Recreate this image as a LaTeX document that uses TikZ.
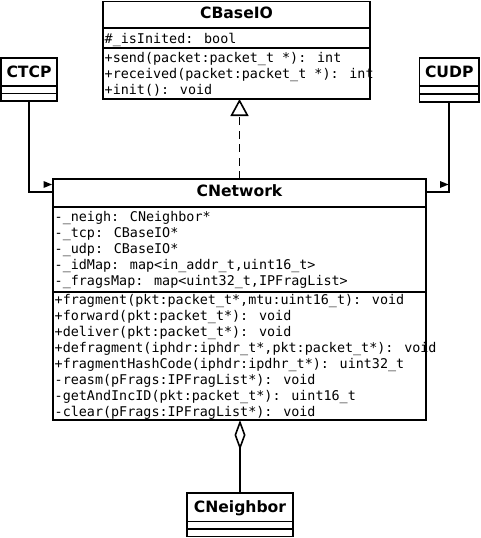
\documentclass[tikz,border=0pt]{standalone}
\usepackage{fontspec}
\usetikzlibrary{arrows.meta}
\newfontfamily\titlefont{DejaVu Sans}
\newfontfamily\memberfont{DejaVu Sans Mono}
\begin{document}
\begin{tikzpicture}[x=1pt,y=-1pt,
  classbox/.style={draw, line width=1.8pt, inner sep=0pt, outer sep=0pt, anchor=north west},
  classtitle/.style={font=\titlefont\bfseries\fontsize{15.6}{18}\selectfont, anchor=base, inner sep=0pt},
  member/.style={font=\memberfont\fontsize{13.4}{16}\selectfont, anchor=base west, inner sep=0pt},
  divider/.style={line width=1.5pt},
  conn/.style={line width=1.6pt},
  navtip/.style={fill=black}]
\useasboundingbox (0,0) rectangle (480,538);

% ---- CBaseIO ----
\node[classbox, minimum width=267pt, minimum height=97.5pt] (cbaseio) at (103,1.5) {};
\draw[divider] (cbaseio.west |- 0,28) -- (cbaseio.east |- 0,28);
\draw[divider] (cbaseio.west |- 0,48) -- (cbaseio.east |- 0,48);
\node[classtitle] (cbaseio-t) at (cbaseio.north |- 0,19) {CBaseIO};
\node[member] (cbaseio-a1) at (104.5,43) {\#\_isInited: bool};
\node[member] (cbaseio-m1) at (104.5,62) {+send(packet:packet\_t *): int};
\node[member] (cbaseio-m2) at (104.5,78) {+received(packet:packet\_t *): int};
\node[member] (cbaseio-m3) at (104.5,94) {+init(): void};

% ---- CTCP ----
\node[classbox, minimum width=56pt, minimum height=43pt] (ctcp) at (1,58) {};
\draw[divider] (ctcp.west |- 0,86) -- (ctcp.east |- 0,86);
\draw[divider] (ctcp.west |- 0,93.5) -- (ctcp.east |- 0,93.5);
\node[classtitle] (ctcp-t) at (ctcp.north |- 0,77) {CTCP};

% ---- CUDP ----
\node[classbox, minimum width=59.5pt, minimum height=44pt] (cudp) at (419.5,58) {};
\draw[divider] (cudp.west |- 0,86) -- (cudp.east |- 0,86);
\draw[divider] (cudp.west |- 0,94) -- (cudp.east |- 0,94);
\node[classtitle] (cudp-t) at (cudp.north |- 0,77) {CUDP};

% ---- CNetwork ----
\node[classbox, minimum width=373pt, minimum height=241pt] (cnet) at (53,179) {};
\draw[divider] (cnet.west |- 0,207) -- (cnet.east |- 0,207);
\draw[divider] (cnet.west |- 0,292) -- (cnet.east |- 0,292);
\node[classtitle] (cnet-t) at (cnet.north |- 0,196) {CNetwork};
\node[member] (cnet-a1) at (54.5,221) {-\_neigh: CNeighbor*};
\node[member] (cnet-a2) at (54.5,237) {-\_tcp: CBaseIO*};
\node[member] (cnet-a3) at (54.5,253) {-\_udp: CBaseIO*};
\node[member] (cnet-a4) at (54.5,269) {-\_idMap: map<in\_addr\_t,uint16\_t>};
\node[member] (cnet-a5) at (54.5,285) {-\_fragsMap: map<uint32\_t,IPFragList>};
\node[member] (cnet-m1) at (54.5,304) {+fragment(pkt:packet\_t*,mtu:uint16\_t): void};
\node[member] (cnet-m2) at (54.5,320) {+forward(pkt:packet\_t*): void};
\node[member] (cnet-m3) at (54.5,336) {+deliver(pkt:packet\_t*): void};
\node[member] (cnet-m4) at (54.5,352) {+defragment(iphdr:iphdr\_t*,pkt:packet\_t*): void};
\node[member] (cnet-m5) at (54.5,368) {+fragmentHashCode(iphdr:ipdhr\_t*): uint32\_t};
\node[member] (cnet-m6) at (54.5,384) {-reasm(pFrags:IPFragList*): void};
\node[member] (cnet-m7) at (54.5,400) {-getAndIncID(pkt:packet\_t*): uint16\_t};
\node[member] (cnet-m8) at (54.5,416) {-clear(pFrags:IPFragList*): void};

% ---- CNeighbor ----
\node[classbox, minimum width=106pt, minimum height=43.5pt] (cneigh) at (187,493) {};
\draw[divider] (cneigh.west |- 0,521.5) -- (cneigh.east |- 0,521.5);
\draw[divider] (cneigh.west |- 0,529) -- (cneigh.east |- 0,529);
\node[classtitle] (cneigh-t) at (cneigh.north |- 0,512) {CNeighbor};

% ---- connectors ----
\draw[conn] (ctcp.south) |- (cnet.west |- 0,192);
\draw[conn] (cudp.south) |- (cnet.east |- 0,192);
\fill[navtip] (43.5,181) -- (43.5,188) -- (52,184.5) -- cycle;
\fill[navtip] (440,181) -- (440,188) -- (448.5,184.5) -- cycle;

\draw[conn, dash pattern=on 8pt off 5.5pt, -{Triangle[open, width=18pt, length=17pt, line width=1.6pt]}]
  (cnet.north) -- (cnet.north |- cbaseio.south);

\draw[conn, -{Diamond[open, width=11pt, length=30pt, line width=1.6pt]}]
  (cneigh.north) -- (cneigh.north |- cnet.south);
\end{tikzpicture}
\end{document}
